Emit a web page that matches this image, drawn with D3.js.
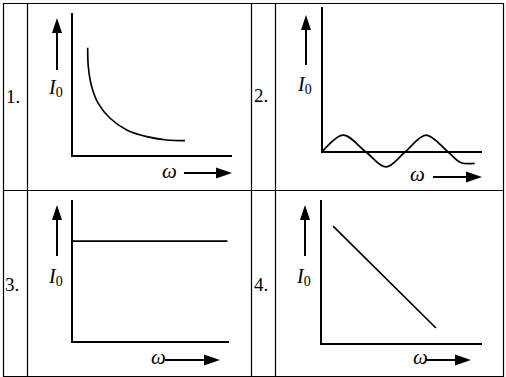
<!DOCTYPE html>
<html>
<head>
<meta charset="utf-8">
<script src="https://cdn.jsdelivr.net/npm/d3@7"></script>
<style>
  body { margin: 0; background: #fff; }
  svg { display: block; }
  svg text { font-family: "Liberation Serif", serif; }
</style>
</head>
<body>
<div id="chart"></div>
<script>
// option numbers of the four cells
var labels = ["1.", "2.", "3.", "4."];

// cell 1 : I0 falls off steeply then levels out
var curve1 = [[0.98, 7.57], [1.02, 6.24], [1.23, 4.85], [1.64, 3.68], [2.38, 2.64],
              [3.42, 1.82], [4.67, 1.35], [5.92, 1.12], [7.06, 1.07]];
// cell 2 : I0 oscillates about the w axis
var curve2 = [[0, 0], [1.31, 1.17], [2.75, 0], [4.0, -1.03], [5.19, 0],
              [6.5, 1.17], [7.88, 0], [8.7, -0.74], [9.54, -0.78]];
// cell 3 : I0 constant
var line3 = [[0, 7.1], [9.9, 7.1]];
// cell 4 : I0 falls linearly
var line4 = [[0.75, 8.19], [7.14, 1.11]];

var yLabel = "I", ySub = "0", xLabel = "\u03c9";

var width = 506, height = 377;

// layout of each cell (pixels)
var cells = [
  {data: curve1, curve: d3.curveCatmullRom.alpha(0.5), x: [72, 232], y: [156, 13],  up: [57, 18, 70],   lab: [49, 94],  w: [162, 178], right: [184, 232, 173], num: [6, 103]},
  {data: curve2, curve: d3.curveCatmullRom.alpha(0.5), x: [322, 482], y: [152, 7],  up: [306, 15, 65],  lab: [298, 91], w: [410, 181], right: [433, 482, 177], num: [254, 102]},
  {data: line3,  curve: d3.curveLinear, x: [72, 229], y: [342, 200], up: [57, 205, 256], lab: [49, 283], w: [151, 364], right: [165, 220, 360], num: [5, 291]},
  {data: line4,  curve: d3.curveLinear, x: [321, 482], y: [344, 200], up: [305, 205, 256], lab: [297, 283], w: [413, 364], right: [426, 471, 360], num: [254, 291]}
];

var svg = d3.select("#chart").append("svg")
    .attr("width", width)
    .attr("height", height);

// table grid
var rows = [3.5, 190.5, 376.5];
var cols = [3.5, 27.5, 251.5, 275.5, 503.5];
svg.selectAll(".hline").data(rows).enter().append("line")
    .attr("x1", 3).attr("x2", 504)
    .attr("y1", function(d) { return d; }).attr("y2", function(d) { return d; })
    .attr("stroke", "#000").attr("stroke-width", 1.2);
svg.selectAll(".vline").data(cols).enter().append("line")
    .attr("y1", 3).attr("y2", 377)
    .attr("x1", function(d) { return d; }).attr("x2", function(d) { return d; })
    .attr("stroke", "#000").attr("stroke-width", 1.2);

cells.forEach(function(c, i) {
  var xScale = d3.scaleLinear().domain([0, 10]).range(c.x);
  var yScale = d3.scaleLinear().domain([0, 10]).range(c.y);

  var line = d3.line()
      .x(function(d) { return xScale(d[0]); })
      .y(function(d) { return yScale(d[1]); });

  // axes as an L shape
  svg.append("path")
      .attr("d", line([[0, 10], [0, 0], [10, 0]]))
      .attr("fill", "none")
      .attr("stroke", "#000")
      .attr("stroke-width", 2);

  // the curve
  svg.append("path")
      .datum(c.data)
      .attr("d", line.curve(c.curve))
      .attr("fill", "none")
      .attr("stroke", "#000")
      .attr("stroke-width", 1.7);

  // upward arrow next to the I0 axis
  var ax = c.up[0], tip = c.up[1], bot = c.up[2];
  svg.append("line")
      .attr("x1", ax).attr("x2", ax).attr("y1", bot).attr("y2", tip + 10)
      .attr("stroke", "#000").attr("stroke-width", 2);
  svg.append("path")
      .attr("d", "M" + ax + "," + tip + "L" + (ax + 5) + "," + (tip + 15) +
                 "L" + (ax - 5) + "," + (tip + 15) + "Z")
      .attr("fill", "#000");

  // right arrow next to the w label
  var r1 = c.right[0], r2 = c.right[1], ry = c.right[2];
  svg.append("line")
      .attr("x1", r1).attr("x2", r2 - 10).attr("y1", ry).attr("y2", ry)
      .attr("stroke", "#000").attr("stroke-width", 2);
  svg.append("path")
      .attr("d", "M" + r2 + "," + ry + "L" + (r2 - 16) + "," + (ry - 5.5) +
                 "L" + (r2 - 16) + "," + (ry + 5.5) + "Z")
      .attr("fill", "#000");

  // I0 label
  var t = svg.append("text")
      .attr("x", c.lab[0]).attr("y", c.lab[1]);
  t.append("tspan").style("font-style", "italic").style("font-size", "20px").text(yLabel);
  t.append("tspan").attr("dy", 3).style("font-size", "14px").text(ySub);

  // w label
  svg.append("text")
      .attr("x", c.w[0]).attr("y", c.w[1])
      .style("font-style", "italic").style("font-size", "21px")
      .text(xLabel);

  // option number
  svg.append("text")
      .attr("x", c.num[0]).attr("y", c.num[1])
      .style("font-size", "19px")
      .text(labels[i]);
});
</script>
</body>
</html>
